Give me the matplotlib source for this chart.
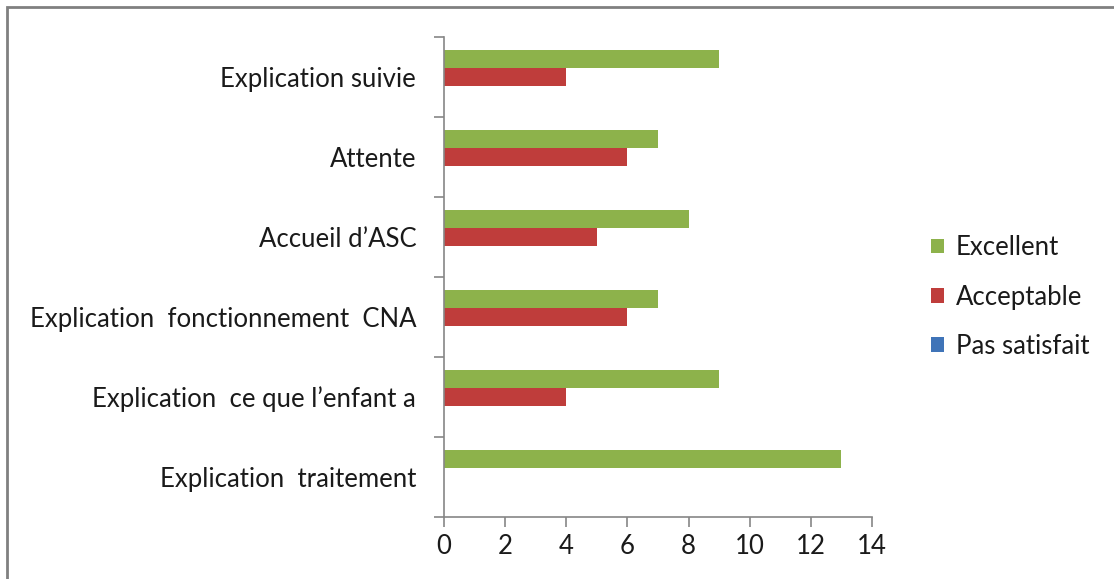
import matplotlib.pyplot as plt
import numpy as np
from matplotlib.patches import Rectangle

# categories, bottom to top as drawn
categories = ["Explication  traitement", "Explication  ce que l\u2019enfant a",
              "Explication  fonctionnement  CNA", "Accueil d\u2019ASC",
              "Attente", "Explication suivie"]
pas_satisfait = [0, 0, 0, 0, 0, 0]
acceptable = [0, 4, 6, 5, 6, 4]
excellent = [13, 9, 7, 8, 7, 9]
x_ticks = [0, 2, 4, 6, 8, 10, 12, 14]

GREEN = "#8DB24B"
RED = "#BF3D3B"
BLUE = "#3F74B8"
AXIS_GRAY = "#868686"
TEXT = "#1a1a1a"
BAR_H = 0.225
FS = 18.5

plt.rcParams['font.family'] = ['Lato', 'DejaVu Sans']

fig = plt.figure(figsize=(11.14, 5.79), dpi=100)
ax = fig.add_axes([444 / 1114, 1 - 517 / 579, (872 - 444) / 1114, (517 - 37) / 579])

y = np.arange(len(categories))
ax.barh(y - BAR_H, pas_satisfait, height=BAR_H, color=BLUE, label="Pas satisfait")
ax.barh(y, acceptable, height=BAR_H, color=RED, label="Acceptable")
ax.barh(y + BAR_H, excellent, height=BAR_H, color=GREEN, label="Excellent")

ax.set_xlim(0, 14)
ax.set_ylim(-0.5, len(categories) - 0.5)
ax.set_xticks(x_ticks)
ax.set_xticklabels([str(v) for v in x_ticks], fontsize=FS, color=TEXT)
ax.set_yticks(y)
ax.set_yticklabels(categories, fontsize=FS, color=TEXT)
ax.set_yticks(np.arange(len(categories) + 1) - 0.5, minor=True)

ax.tick_params(axis='y', which='major', length=0, pad=20)
ax.tick_params(axis='y', which='minor', length=7, color=AXIS_GRAY, width=1.2)
ax.tick_params(axis='x', length=7, color=AXIS_GRAY, width=1.2, pad=5)

for side in ['top', 'right']:
    ax.spines[side].set_visible(False)
for side in ['left', 'bottom']:
    ax.spines[side].set_color(AXIS_GRAY)
    ax.spines[side].set_linewidth(1.2)

handles, labels = ax.get_legend_handles_labels()
order = [2, 1, 0]
leg = fig.legend([handles[i] for i in order], [labels[i] for i in order],
                 loc='center left', bbox_to_anchor=(908 / 1114, 1 - 297 / 579),
                 frameon=False, fontsize=FS, handlelength=0.5, handleheight=0.5,
                 handletextpad=0.45, labelspacing=0.95)
for t in leg.get_texts():
    t.set_color(TEXT)

# outer chart frame (left and top edges visible)
fig.add_artist(Rectangle((7 / 1114, -0.05), 1.2, 1.05 - 7 / 579, transform=fig.transFigure,
                         fill=False, edgecolor="#808080", linewidth=2))

fig.savefig("out.png", dpi=100)
